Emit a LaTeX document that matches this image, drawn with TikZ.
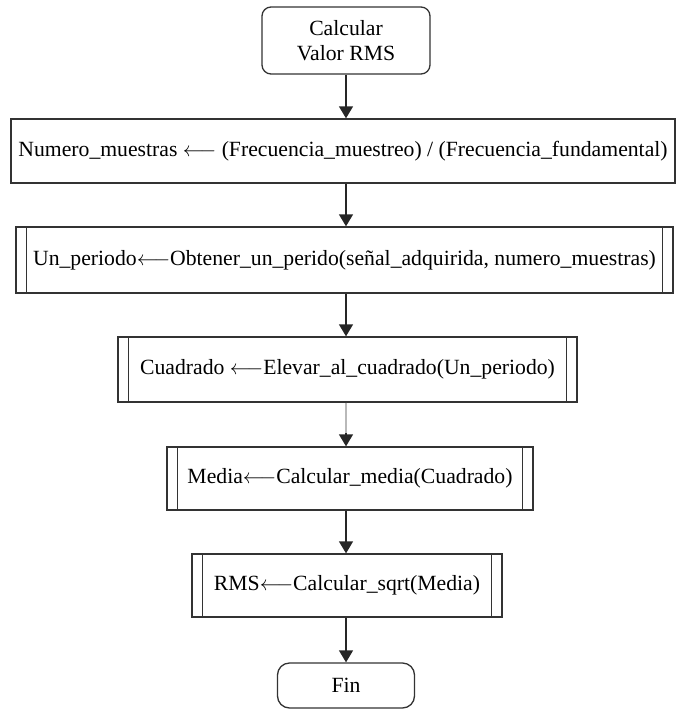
\documentclass[tikz,border=0pt]{standalone}
\usepackage{fontspec}
\setmainfont{Liberation Serif}
\usetikzlibrary{arrows.meta}

\begin{document}
\begin{tikzpicture}[
  x=1pt, y=-1pt,
  font=\fontsize{21.7}{25}\selectfont,
  >={Triangle[width=14pt,length=12pt]},
  line/.style    ={draw=black!80,line width=1.3pt},
  term/.style    ={line,rectangle,rounded corners=9pt,align=center,inner sep=2pt},
  proc/.style    ={line,rectangle,inner sep=1pt},
  subproc/.style ={proc,path picture={
      \draw[black!80,line width=1.1pt]
        ([xshift=10.5pt]path picture bounding box.north west)
          -- ([xshift=10.5pt]path picture bounding box.south west)
        ([xshift=-10.5pt]path picture bounding box.north east)
          -- ([xshift=-10.5pt]path picture bounding box.south east);}},
  flow/.style    ={->,black!85,line width=1.4pt},
]
\useasboundingbox (0,0) rectangle (676,709);

%% ============================================================
%%  Start / end terminals
%% ============================================================
\node[term,minimum width=168pt,minimum height=67pt] (inicio) at (346,40.5)
      {Calcular\\Valor RMS};
\node[term,rounded corners=12pt,minimum width=137pt,minimum height=45pt] (fin)
      at (346,685.5) {Fin};

%% ============================================================
%%  Process steps
%% ============================================================
\node[proc,minimum width=664pt,minimum height=64pt] (nmuestras) at (343,151)
      {Numero\_muestras $\longleftarrow$ (Frecuencia\_muestreo) / (Frecuencia\_fundamental)};
\node[subproc,minimum width=657pt,minimum height=66pt] (periodo) at (344.5,260)
      {Un\_periodo$\longleftarrow$Obtener\_un\_perido(señal\_adquirida, numero\_muestras)};
\node[subproc,minimum width=459pt,minimum height=65pt] (cuadrado) at (347.5,369.5)
      {Cuadrado $\longleftarrow$Elevar\_al\_cuadrado(Un\_periodo)};
\node[subproc,minimum width=366pt,minimum height=63pt] (media) at (350,478.5)
      {Media$\longleftarrow$Calcular\_media(Cuadrado)};
\node[subproc,minimum width=310pt,minimum height=63pt] (rms) at (347,585.5)
      {RMS$\longleftarrow$Calcular\_sqrt(Media)};

%% ============================================================
%%  Flow
%% ============================================================
\draw[flow] (inicio.south) -- (inicio.south |- nmuestras.north);
\draw[flow] (inicio |- nmuestras.south) -- (inicio |- periodo.north);
\draw[flow] (inicio |- periodo.south) -- (inicio |- cuadrado.north);
\draw[flow] (inicio |- cuadrado.south) -- (inicio |- media.north);
%% grey stem over the black one
\path (inicio |- media.north) coordinate (mtop) ++(0,-13) coordinate (mstem);
\draw[gray!55,line width=1.5pt] (inicio |- cuadrado.south) -- (mstem);
\draw[flow] (inicio |- media.south) -- (inicio |- rms.north);
\draw[flow] (inicio |- rms.south) -- (fin.north);

\end{tikzpicture}
\end{document}
